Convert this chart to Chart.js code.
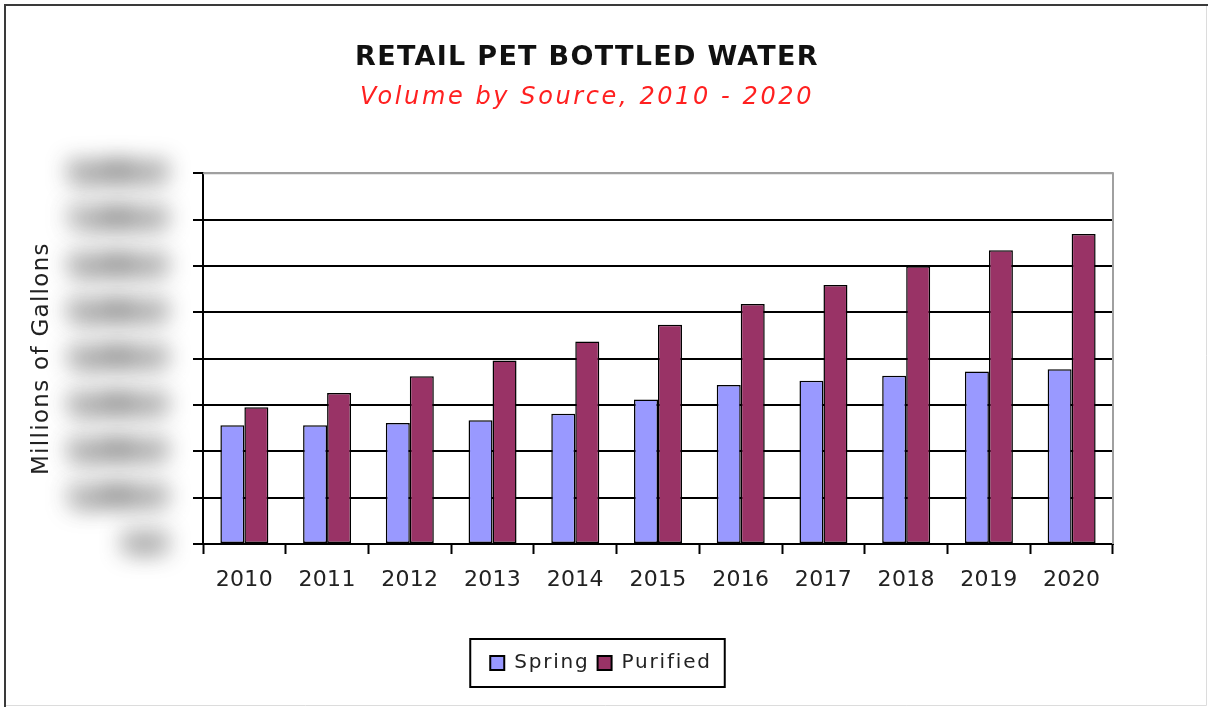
<!DOCTYPE html>
<html>
<head>
<meta charset="utf-8">
<script src="https://cdn.jsdelivr.net/npm/chart.js@4.4.1/dist/chart.umd.min.js"></script>
<style>
html,body{margin:0;padding:0;background:#fff;}
canvas{display:block;}
</style>
</head>
<body>
<canvas id="c" width="1208" height="707"></canvas>
<script>
// ---- data ----
const years = ['2010','2011','2012','2013','2014','2015','2016','2017','2018','2019','2020'];
const springValues = [2560,2560,2610,2670,2810,3120,3430,3520,3630,3720,3770];
const purifiedValues = [2950,3260,3620,3960,4370,4730,5180,5590,5990,6340,6690];
const yTickValues = [0,1000,2000,3000,4000,5000,6000,7000,8000];
const seriesNames = ['Spring','Purified'];
const titleText = 'RETAIL PET BOTTLED WATER';
const subtitleText = 'Volume by Source, 2010 - 2020';
const yAxisTitle = 'Millions of Gallons';

const FAMILY = "'DejaVu Sans', Verdana, sans-serif";
const TITLE_CENTER_X = 587;
const LEGEND_CENTER_X = 601;

// letter spacing per font size (reference text is widely spaced)
const spacingBySize = {27:1.3, 24:2.6, 23:1.3, 20:1.8, 18:2.5, 22:0.3};
const canvas = document.getElementById('c');
const ctx = canvas.getContext('2d');
const fontDesc = Object.getOwnPropertyDescriptor(CanvasRenderingContext2D.prototype, 'font');
Object.defineProperty(ctx, 'font', {
  configurable: true,
  get(){ return fontDesc.get.call(this); },
  set(v){
    fontDesc.set.call(this, v);
    if ('letterSpacing' in this) {
      const m = /(\d+(?:\.\d+)?)px/.exec(v);
      const s = m && spacingBySize[Math.round(parseFloat(m[1]))];
      this.letterSpacing = (s || 0) + 'px';
    }
  }
});

const decorPlugin = {
  id: 'decor',
  beforeDraw(chart){
    const c = chart.ctx, w = chart.width, h = chart.height;
    c.save();
    c.fillStyle = '#fff';
    c.fillRect(0,0,w,h);
    c.strokeStyle = '#dcdcdc'; c.lineWidth = 1;
    c.beginPath(); c.moveTo(w-1.5,5); c.lineTo(w-1.5,h-1.5); c.lineTo(5,h-1.5); c.stroke();
    c.strokeStyle = '#3a3a3a'; c.lineWidth = 2;
    c.beginPath(); c.moveTo(5,h); c.lineTo(5,5); c.lineTo(w,5); c.stroke();
    c.restore();
  },
  afterLayout(chart){
    for (const box of chart.boxes) {
      if (box === chart.legend) {
        const dx = LEGEND_CENTER_X - (box.left + box.right)/2;
        box.left += dx; box.right += dx;
      } else if (!(box instanceof Chart.Scale) && (box.position === 'top' || (box.options && box.options.position === 'top'))) {
        const dx = TITLE_CENTER_X - (box.left + box.right)/2;
        box.left += dx; box.right += dx;
      }
    }
  },
  beforeDatasetsDraw(chart){
    const a = chart.chartArea, c = chart.ctx;
    c.save();
    c.strokeStyle = '#a0a0a0'; c.lineWidth = 2;
    c.beginPath(); c.moveTo(a.left, a.top); c.lineTo(a.right, a.top); c.lineTo(a.right, a.bottom); c.stroke();
    c.restore();
  },
  afterDatasetsDraw(chart){
    // the y tick labels are blurred in the reference
    chart.ctx.filter = 'blur(12px)';
    chart.ctx.globalAlpha = 0.8;
  },
  afterDraw(chart){
    const c = chart.ctx;
    c.filter = 'none';
    c.globalAlpha = 1;
    const boxes = chart.legend && chart.legend.legendHitBoxes;
    if (boxes && boxes.length) {
      let l = Infinity, r = -Infinity, t = Infinity, b = -Infinity;
      for (const hb of boxes) { l = Math.min(l, hb.left); r = Math.max(r, hb.left + hb.width); t = Math.min(t, hb.top); b = Math.max(b, hb.top + hb.height); }
      const cy = (t + b)/2;
      c.save();
      c.strokeStyle = '#000'; c.lineWidth = 2;
      c.strokeRect(l - 20, cy - 24, (r - l) + 33, 48);
      c.restore();
    }
  }
};

new Chart(ctx, {
  type: 'bar',
  data: {
    labels: years,
    datasets: [
      { label: seriesNames[0], data: springValues, backgroundColor: '#9999FF', borderColor: '#000', borderWidth: 1.5, borderSkipped: false, inflateAmount: 0 },
      { label: seriesNames[1], data: purifiedValues, backgroundColor: '#993366', borderColor: '#000', borderWidth: 1.5, borderSkipped: false, inflateAmount: 0 }
    ]
  },
  options: {
    responsive: false,
    animation: false,
    devicePixelRatio: 1,
    layout: { padding: { left: 8, right: 95, top: 0, bottom: 24 } },
    datasets: { bar: { barPercentage: 1.0, categoryPercentage: 0.58 } },
    plugins: {
      tooltip: { enabled: false },
      title: {
        display: true, text: titleText, color: '#111',
        font: { family: FAMILY, size: 27, weight: 'bold', lineHeight: 1.2 },
        padding: { top: 42, bottom: 0 }
      },
      subtitle: {
        display: true, text: subtitleText, color: '#ff2020',
        font: { family: FAMILY, size: 24, style: 'italic', lineHeight: 1.2 },
        padding: { top: 9, bottom: 61 }
      },
      legend: {
        position: 'bottom',
        labels: {
          color: '#222',
          font: { family: FAMILY, size: 20 },
          boxWidth: 14, boxHeight: 14, padding: 8,
          generateLabels(chart){
            return chart.data.datasets.map((ds, i) => ({
              text: ds.label, fillStyle: ds.backgroundColor, strokeStyle: '#000', lineWidth: 2,
              hidden: false, datasetIndex: i, fontColor: '#222'
            }));
          }
        }
      }
    },
    scales: {
      x: {
        type: 'category',
        offset: true,
        grid: { display: true, offset: true, drawOnChartArea: false, drawTicks: true, tickLength: 10, tickColor: '#000', tickWidth: 2 },
        border: { display: true, color: '#000', width: 2 },
        ticks: { color: '#222', font: { family: FAMILY, size: 22 }, padding: 13, maxRotation: 0, autoSkip: false },
        afterFit(scale){ scale.height = 101; }
      },
      y: {
        min: 0, max: 8000,
        afterBuildTicks(scale){ scale.ticks = yTickValues.map(v => ({ value: v })); },
        grid: {
          color: (c) => (c.tick && c.tick.value === 8000) ? '#a0a0a0' : '#000',
          lineWidth: 2, drawTicks: true, tickLength: 10, tickColor: '#000', tickWidth: 2
        },
        border: { display: true, color: '#000', width: 2 },
        ticks: {
          z: 1, color: '#444', padding: 27,
          textStrokeColor: '#555', textStrokeWidth: 5,
          font: { family: FAMILY, size: 18, weight: 'bold' },
          callback: (v) => Number(v).toLocaleString('en-US', { minimumFractionDigits: 1, maximumFractionDigits: 1 })
        },
        title: {
          display: true, text: yAxisTitle, color: '#222',
          font: { family: FAMILY, size: 23, lineHeight: 1.2 },
          padding: { top: 20, bottom: 0 }
        },
        afterFit(scale){ scale.width = 195; }
      }
    }
  },
  plugins: [decorPlugin]
});
</script>
</body>
</html>
